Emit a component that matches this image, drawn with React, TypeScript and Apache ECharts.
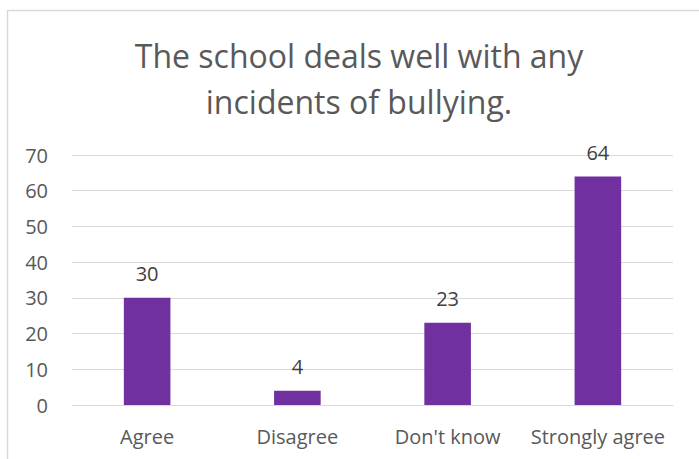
import React, { useEffect, useRef } from "react";
import * as echarts from "echarts";

const categories = ["Agree", "Disagree", "Don't know", "Strongly agree"];
const values = [30, 4, 23, 64];
const titleLines = ["The school deals well with any", "incidents of bullying."];
const yMin = 0;
const yMax = 70;
const yInterval = 10;

export default function App() {
  const ref = useRef<HTMLDivElement>(null);
  useEffect(() => {
    document.body.style.margin = "0";
    const chart = echarts.init(ref.current!, undefined, { renderer: "svg" });
    const font = "'Open Sans', 'Liberation Sans', sans-serif";
    chart.setOption({
      animation: false,
      backgroundColor: "#ffffff",
      title: {
        text: titleLines.join("\n"),
        left: 354,
        top: 27,
        textAlign: "center",
        textStyle: {
          fontFamily: font,
          fontSize: 32,
          fontWeight: "normal",
          color: "#595959",
          lineHeight: 46,
        },
      },
      graphic: [
        {
          type: "rect",
          shape: { x: 7.5, y: 10.5, width: 800, height: 600 },
          style: { fill: "none", stroke: "#d9d9d9", lineWidth: 1.5 },
          silent: true,
          z: 100,
        },
      ],
      grid: { left: 72, right: 26, top: 155, bottom: 54 },
      xAxis: {
        type: "category",
        data: categories,
        axisLine: { show: true, lineStyle: { color: "#d9d9d9", width: 1 } },
        axisTick: { show: false },
        axisLabel: {
          interval: 0,
          margin: 21,
          fontFamily: font,
          fontSize: 20,
          color: "#595959",
        },
      },
      yAxis: {
        type: "value",
        min: yMin,
        max: yMax,
        interval: yInterval,
        axisLine: { show: false },
        axisTick: { show: false },
        splitLine: { lineStyle: { color: "#d9d9d9", width: 1 } },
        axisLabel: {
          margin: 24,
          fontFamily: font,
          fontSize: 20,
          color: "#595959",
        },
      },
      series: [
        {
          type: "bar",
          data: values,
          barWidth: "31%",
          itemStyle: { color: "#7030a0" },
          label: {
            show: true,
            position: "top",
            distance: 14,
            fontFamily: font,
            fontSize: 20,
            color: "#404040",
          },
        },
      ],
    });
    return () => chart.dispose();
  }, []);
  return <div ref={ref} style={{ width: 699, height: 459 }} />;
}
